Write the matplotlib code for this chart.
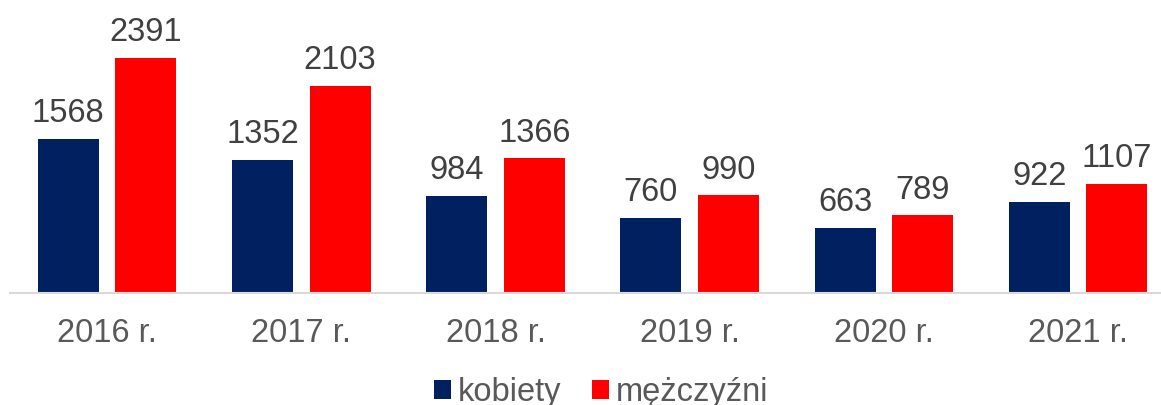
import matplotlib
matplotlib.use('Agg')
import matplotlib.pyplot as plt
import numpy as np

years = ['2016 r.', '2017 r.', '2018 r.', '2019 r.', '2020 r.', '2021 r.']
kobiety = [1568, 1352, 984, 760, 663, 922]
mezczyzni = [2391, 2103, 1366, 990, 789, 1107]

NAVY = '#002060'
RED = '#FF0000'
FS = 23.5

plt.rcParams['font.family'] = ['Liberation Sans', 'DejaVu Sans']

W, H = 1161, 405
fig = plt.figure(figsize=(W / 100, H / 100), dpi=100)
# axes: left 10 px, bottom at y=293 px, top at 0
ax = fig.add_axes([10 / W, (H - 293) / H, 1151 / W, 293 / H])

x = np.arange(len(years))
bw = 0.314
off = 0.2
b1 = ax.bar(x - off, kobiety, bw, color=NAVY, label='kobiety')
b2 = ax.bar(x + off, mezczyzni, bw, color=RED, label='mężczyźni')

for bars, vals in ((b1, kobiety), (b2, mezczyzni)):
    for rect, v in zip(bars, vals):
        ax.annotate(str(v), (rect.get_x() + rect.get_width() / 2, v),
                    xytext=(0, 7), textcoords='offset points',
                    ha='center', va='bottom', fontsize=FS, color='#404040')

ax.set_xlim(-0.5, -0.5 + 1151 / 194.2)
ax.set_ylim(0, 2975)
ax.set_xticks(x)
ax.set_xticklabels(years, fontsize=FS, color='#595959')
ax.tick_params(axis='x', length=0, pad=18)
ax.set_yticks([])
for s in ('top', 'right', 'left'):
    ax.spines[s].set_visible(False)
ax.spines['bottom'].set_color('#D9D9D9')
ax.spines['bottom'].set_linewidth(1.5)

# legend sits at the very bottom, descenders clipped as in the original
leg = fig.legend(loc='lower center', bbox_to_anchor=(0.518, -0.08), ncol=2,
                 frameon=False, fontsize=FS, handlelength=0.52, handleheight=0.52,
                 handletextpad=0.21, columnspacing=0.95)
for t in leg.get_texts():
    t.set_color('#595959')

fig.savefig('out.png', dpi=100)
